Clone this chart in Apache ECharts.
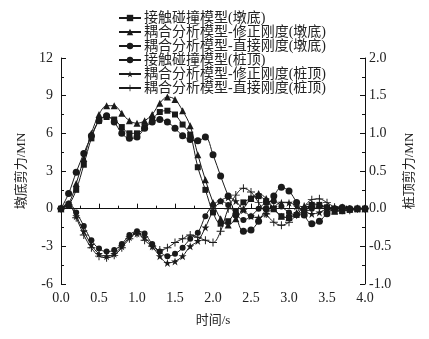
<!DOCTYPE html>
<html>
<head>
<meta charset="utf-8">
<script src="https://cdn.jsdelivr.net/npm/echarts@6/dist/echarts.min.js"></script>
<style>
  html, body { margin: 0; padding: 0; background: #fff; }
  #main { width: 429px; height: 339px; }
</style>
</head>
<body>
<div id="main"></div>
<script>
// 时间 (s)
var times = [0.0, 0.1, 0.2, 0.3, 0.4, 0.5, 0.6, 0.7, 0.8, 0.9,
             1.0, 1.1, 1.2, 1.3, 1.4, 1.5, 1.6, 1.7, 1.8, 1.9,
             2.0, 2.1, 2.2, 2.3, 2.4, 2.5, 2.6, 2.7, 2.8, 2.9,
             3.0, 3.1, 3.2, 3.3, 3.4, 3.5, 3.6, 3.7, 3.8, 3.9, 4.0];

// 墩底剪力 (MN), 左轴
var contactPier = [0, 0.3, 1.5, 3.5, 5.6, 7.0, 7.3, 7.1, 6.5, 6.0,
                   6.0, 6.5, 7.1, 7.7, 7.8, 7.5, 6.7, 5.9, 3.3, 1.5,
                   -0.3, -1.2, -1.0, -0.2, 0.5, 0.8, 1.0, 0.6, 0.0, -0.6,
                   -0.7, -0.5, -0.1, 0.3, 0.3, 0.1, -0.2, -0.2, -0.1, 0.0, 0.0];
var corrPier = [0, 0.4, 2.0, 4.0, 6.0, 7.5, 8.2, 8.2, 7.6, 7.0,
                6.8, 7.0, 7.5, 8.4, 8.9, 8.7, 7.8, 6.6, 4.3, 2.3,
                0.5, -0.8, -1.3, -0.8, 0.0, 0.8, 1.2, 0.8, 0.0, -0.6,
                -0.7, -0.3, 0.2, 0.4, 0.3, 0.0, -0.2, -0.1, 0.0, 0.0, 0.0];
var directPier = [0, 1.2, 2.9, 4.4, 5.8, 7.0, 7.4, 6.9, 6.0, 5.6,
                  5.7, 6.4, 6.9, 7.1, 6.9, 6.4, 5.8, 5.5, 5.4, 5.7,
                  4.3, 2.6, 1.0, -0.5, -1.8, -1.7, -1.0, 0.0, 1.0, 1.7,
                  1.4, 0.5, -0.5, -1.2, -1.0, -0.4, 0.0, 0.1, 0.0, 0.0, 0.0];

// 桩顶剪力 (MN), 右轴
var contactPile = [0, 0.07, -0.05, -0.23, -0.42, -0.53, -0.57, -0.55, -0.47, -0.35,
                   -0.30, -0.33, -0.47, -0.57, -0.63, -0.60, -0.52, -0.40, -0.32, -0.10,
                   0.05, 0.10, 0.05, -0.07, -0.15, -0.10, 0.0, 0.08, 0.10, 0.03,
                   -0.05, -0.08, -0.05, 0.0, 0.03, 0.02, 0.0, 0.0, 0.0, 0.0, 0.0];
var corrPile = [0, 0.05, -0.10, -0.30, -0.48, -0.60, -0.63, -0.60, -0.50, -0.38,
                -0.33, -0.38, -0.50, -0.63, -0.72, -0.70, -0.63, -0.50, -0.43, -0.25,
                -0.03, 0.10, 0.15, 0.10, -0.02, -0.10, -0.12, -0.07, 0.02, 0.08,
                0.08, 0.03, -0.03, -0.07, -0.05, 0.0, 0.02, 0.02, 0.0, 0.0, 0.0];
var directPile = [0, 0.05, -0.12, -0.35, -0.52, -0.63, -0.65, -0.62, -0.52, -0.40,
                  -0.33, -0.42, -0.50, -0.55, -0.52, -0.45, -0.40, -0.35, -0.38, -0.42,
                  -0.45, -0.30, 0.0, 0.18, 0.27, 0.22, 0.08, -0.07, -0.18, -0.22,
                  -0.18, -0.08, 0.03, 0.12, 0.13, 0.08, 0.02, -0.02, -0.02, 0.0, 0.0];

var names = ['接触碰撞模型(墩底)', '耦合分析模型-修正刚度(墩底)', '耦合分析模型-直接刚度(墩底)',
             '接触碰撞模型(桩顶)', '耦合分析模型-修正刚度(桩顶)', '耦合分析模型-直接刚度(桩顶)'];

var starPath = 'path://M5,0L6.2,3.6L10,3.6L6.9,5.8L8.1,9.5L5,7.2L1.9,9.5L3.1,5.8L0,3.6L3.8,3.6Z';
var plusPath = 'path://M0,4.4H10V5.6H0Z M4.4,0H5.6V10H4.4Z';

function zip(vals) {
  return times.map(function (t, i) { return [t, vals[i]]; });
}

function mk(name, vals, axis, symbol, size) {
  return {
    name: name,
    type: 'line',
    yAxisIndex: axis,
    smooth: 0.35,
    symbol: symbol,
    symbolSize: size,
    showSymbol: true,
    lineStyle: { color: '#1a1a1a', width: 1 },
    itemStyle: { color: '#1a1a1a' },
    data: zip(vals)
  };
}

var font = '"Liberation Serif", "Noto Sans CJK SC", serif';
var chart = echarts.init(document.getElementById('main'));
var option = {
  animation: false,
  textStyle: { fontFamily: font },
  legend: {
    orient: 'vertical',
    left: 113,
    top: 6,
    itemWidth: 22,
    itemHeight: 8,
    itemGap: 0,
    textStyle: { fontSize: 14, color: '#222', fontFamily: font, lineHeight: 13.4, padding: [0, 0, 0, -2] },
    data: names
  },
  grid: { left: 61, right: 64, top: 58, bottom: 55 },
  xAxis: {
    type: 'value',
    min: 0, max: 4, interval: 0.5,
    name: '时间/s',
    nameLocation: 'middle',
    nameGap: 30,
    nameTextStyle: { fontSize: 13, color: '#222', fontFamily: font },
    axisLine: { lineStyle: { color: '#111' } },
    axisTick: { inside: true, length: 5, lineStyle: { color: '#111' } },
    minorTick: { show: true, splitNumber: 2, length: 3, lineStyle: { color: '#111' } },
    splitLine: { show: false },
    axisLabel: { fontSize: 14, color: '#222', margin: 7, formatter: function (v) { return v.toFixed(1); } }
  },
  yAxis: [{
    type: 'value',
    min: -6, max: 12, interval: 3,
    name: '墩底剪力/MN',
    nameLocation: 'middle',
    nameRotate: 90,
    nameGap: 32,
    nameTextStyle: { fontSize: 13, color: '#222', fontFamily: font },
    axisLine: { show: true, lineStyle: { color: '#111' } },
    axisTick: { inside: true, length: 5, lineStyle: { color: '#111' } },
    minorTick: { show: true, splitNumber: 2, length: 3, lineStyle: { color: '#111' } },
    splitLine: { show: false },
    axisLabel: { fontSize: 14, color: '#222', margin: 8 }
  }, {
    type: 'value',
    min: -1, max: 2, interval: 0.5,
    position: 'right',
    name: '桩顶剪力/MN',
    nameLocation: 'middle',
    nameRotate: 90,
    nameGap: 38,
    nameTextStyle: { fontSize: 13, color: '#222', fontFamily: font },
    axisLine: { show: true, lineStyle: { color: '#111' } },
    axisTick: { inside: true, length: 5, lineStyle: { color: '#111' } },
    minorTick: { show: true, splitNumber: 2, length: 3, lineStyle: { color: '#111' } },
    splitLine: { show: false },
    axisLabel: { fontSize: 14, color: '#222', margin: 4, formatter: function (v) { return v.toFixed(1); } }
  }],
  series: [
    mk(names[0], contactPier, 0, 'rect', 6),
    mk(names[1], corrPier, 0, 'triangle', 7),
    mk(names[2], directPier, 0, 'circle', 7),
    mk(names[3], contactPile, 1, 'circle', 6),
    mk(names[4], corrPile, 1, starPath, 8),
    mk(names[5], directPile, 1, plusPath, 8)
  ]
};
chart.setOption(option);
</script>
</body>
</html>
